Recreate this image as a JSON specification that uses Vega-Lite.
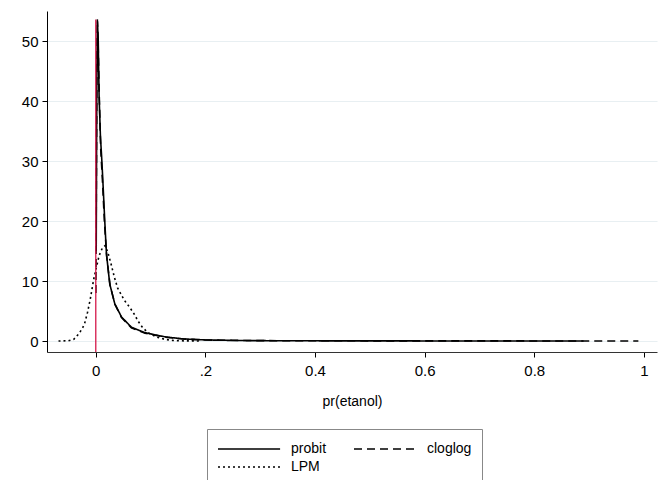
{
  "$schema": "https://vega.github.io/schema/vega-lite/v6.json",
  "width": 610,
  "height": 341,
  "autosize": {"type": "none"},
  "padding": {"left": 47, "top": 11, "right": 3, "bottom": 128},
  "background": "white",
  "config": {"view": {"stroke": null}, "font": "Liberation Sans"},
  "datasets": {
    "curves": [
      {"model": "probit", "x": 0.0008, "y": 15},
      {"model": "probit", "x": 0.002, "y": 45},
      {"model": "probit", "x": 0.003, "y": 53.3},
      {"model": "probit", "x": 0.0045, "y": 50},
      {"model": "probit", "x": 0.006, "y": 41},
      {"model": "probit", "x": 0.0085, "y": 34},
      {"model": "probit", "x": 0.0105, "y": 31},
      {"model": "probit", "x": 0.0125, "y": 27.5},
      {"model": "probit", "x": 0.0164, "y": 20},
      {"model": "probit", "x": 0.0195, "y": 14.5},
      {"model": "probit", "x": 0.0255, "y": 9.5},
      {"model": "probit", "x": 0.0347, "y": 6.2},
      {"model": "probit", "x": 0.047, "y": 4.0},
      {"model": "probit", "x": 0.065, "y": 2.3},
      {"model": "probit", "x": 0.089, "y": 1.4},
      {"model": "probit", "x": 0.126, "y": 0.7},
      {"model": "probit", "x": 0.16, "y": 0.35},
      {"model": "probit", "x": 0.2, "y": 0.18},
      {"model": "probit", "x": 0.26, "y": 0.08},
      {"model": "probit", "x": 0.35, "y": 0.04},
      {"model": "probit", "x": 0.5, "y": 0.02},
      {"model": "probit", "x": 0.7, "y": 0.01},
      {"model": "probit", "x": 0.89, "y": 0.005},
      {"model": "cloglog", "x": 0.0002, "y": 8},
      {"model": "cloglog", "x": 0.001, "y": 25},
      {"model": "cloglog", "x": 0.002, "y": 45},
      {"model": "cloglog", "x": 0.0028, "y": 53.6},
      {"model": "cloglog", "x": 0.004, "y": 51},
      {"model": "cloglog", "x": 0.006, "y": 42},
      {"model": "cloglog", "x": 0.009, "y": 32},
      {"model": "cloglog", "x": 0.012, "y": 27},
      {"model": "cloglog", "x": 0.016, "y": 19.5},
      {"model": "cloglog", "x": 0.02, "y": 14},
      {"model": "cloglog", "x": 0.026, "y": 9.3},
      {"model": "cloglog", "x": 0.035, "y": 6.1},
      {"model": "cloglog", "x": 0.047, "y": 3.9},
      {"model": "cloglog", "x": 0.065, "y": 2.2},
      {"model": "cloglog", "x": 0.09, "y": 1.3},
      {"model": "cloglog", "x": 0.125, "y": 0.65},
      {"model": "cloglog", "x": 0.16, "y": 0.33},
      {"model": "cloglog", "x": 0.2, "y": 0.17},
      {"model": "cloglog", "x": 0.3, "y": 0.06},
      {"model": "cloglog", "x": 0.5, "y": 0.03},
      {"model": "cloglog", "x": 0.7, "y": 0.02},
      {"model": "cloglog", "x": 0.9, "y": 0.01},
      {"model": "cloglog", "x": 0.99, "y": 0.005},
      {"model": "LPM", "x": -0.068, "y": 0},
      {"model": "LPM", "x": -0.05, "y": 0.05},
      {"model": "LPM", "x": -0.04, "y": 0.3},
      {"model": "LPM", "x": -0.03, "y": 1.3},
      {"model": "LPM", "x": -0.021, "y": 2.7},
      {"model": "LPM", "x": -0.015, "y": 4.8},
      {"model": "LPM", "x": -0.01, "y": 7},
      {"model": "LPM", "x": -0.004, "y": 10.2},
      {"model": "LPM", "x": 0.0, "y": 11.8},
      {"model": "LPM", "x": 0.006, "y": 14.2},
      {"model": "LPM", "x": 0.012, "y": 15.5},
      {"model": "LPM", "x": 0.017, "y": 15.9},
      {"model": "LPM", "x": 0.022, "y": 14.8},
      {"model": "LPM", "x": 0.028, "y": 12.8},
      {"model": "LPM", "x": 0.034, "y": 10.6},
      {"model": "LPM", "x": 0.04, "y": 8.8},
      {"model": "LPM", "x": 0.052, "y": 6.8},
      {"model": "LPM", "x": 0.062, "y": 5.6},
      {"model": "LPM", "x": 0.07, "y": 4.5},
      {"model": "LPM", "x": 0.078, "y": 3.2},
      {"model": "LPM", "x": 0.085, "y": 2.3},
      {"model": "LPM", "x": 0.095, "y": 1.4},
      {"model": "LPM", "x": 0.11, "y": 0.7},
      {"model": "LPM", "x": 0.125, "y": 0.3},
      {"model": "LPM", "x": 0.14, "y": 0.1},
      {"model": "LPM", "x": 0.16, "y": 0.03},
      {"model": "LPM", "x": 0.19, "y": 0.01}
    ],
    "vline": [{"x": 0, "ylo": -1.83, "yhi": 53.6}]
  },
  "layer": [
    {
      "data": {"name": "curves"},
      "mark": {"type": "line", "strokeWidth": 1.6, "color": "black", "clip": true},
      "encoding": {
        "x": {
          "field": "x",
          "type": "quantitative",
          "scale": {"domain": [-0.089, 1.024], "nice": false, "zero": false},
          "axis": {
            "values": [0, 0.2, 0.4, 0.6, 0.8, 1],
            "labelExpr": "datum.value == 0.2 ? '.2' : (datum.value == 0 ? '0' : (datum.value == 1 ? '1' : format(datum.value, '.1f')))",
            "grid": false,
            "domainColor": "#333",
            "tickColor": "black",
            "tickSize": 5,
            "labelFontSize": 15,
            "labelColor": "black",
            "labelPadding": 6,
            "title": "pr(etanol)",
            "titleFontSize": 14,
            "titleFontWeight": "normal",
            "titleColor": "black",
            "titlePadding": 16
          }
        },
        "y": {
          "field": "y",
          "type": "quantitative",
          "scale": {"domain": [-1.83, 55], "nice": false, "zero": false},
          "axis": {
            "values": [0, 10, 20, 30, 40, 50],
            "grid": true,
            "gridColor": "#e8eff2",
            "gridWidth": 1.2,
            "domainColor": "black",
            "tickColor": "black",
            "tickSize": 5,
            "labelFontSize": 15,
            "labelColor": "black",
            "labelPadding": 4,
            "title": null
          }
        },
        "strokeDash": {
          "field": "model",
          "type": "nominal",
          "scale": {"domain": ["probit", "cloglog", "LPM"], "range": [[1, 0], [8, 5], [2, 3]]},
          "legend": {
            "title": null,
            "orient": "none",
            "legendX": 160,
            "legendY": 418,
            "columns": 2,
            "direction": "horizontal",
            "strokeColor": "#888",
            "fillColor": "white",
            "padding": 10,
            "symbolType": "M-1,0H5.9",
            "symbolSize": 324,
            "symbolStrokeWidth": 1.5,
            "symbolStrokeColor": "black",
            "symbolFillColor": "transparent",
            "labelFontSize": 14,
            "labelColor": "black",
            "labelOffset": 54,
            "columnPadding": 24,
            "rowPadding": 1
          }
        }
      }
    },
    {
      "data": {"name": "vline"},
      "mark": {"type": "rule", "color": "#d4184a", "strokeWidth": 1.3},
      "encoding": {
        "x": {"field": "x", "type": "quantitative"},
        "y": {"field": "ylo", "type": "quantitative"},
        "y2": {"field": "yhi"}
      }
    }
  ]
}
